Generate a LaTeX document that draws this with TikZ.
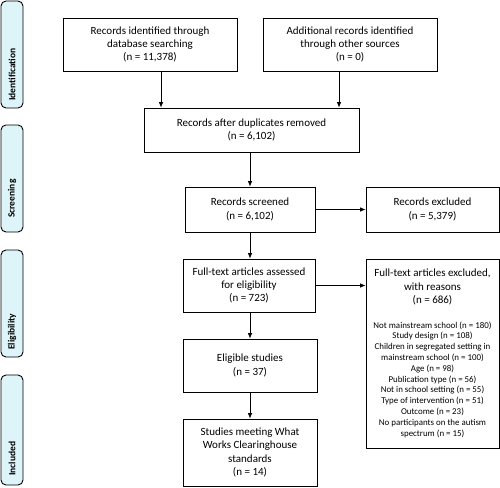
\documentclass[tikz,border=0pt]{standalone}
\usepackage{fontspec}
\setmainfont{Carlito}
\usetikzlibrary{arrows.meta}
\definecolor{sidefill}{HTML}{DDF4F9}
\tikzset{
  box/.style={draw=black, line width=0.8pt, inner sep=0pt, align=center,
    font=\fontsize{11}{13.4}\selectfont},
  side/.style={draw=black, line width=0.9pt, fill=sidefill, rounded corners=5pt,
    minimum height=22pt, inner sep=0pt, rotate=90},
  sidetext/.style={rotate=90, anchor=west, inner sep=0pt,
    font=\fontsize{9.5}{11}\selectfont\bfseries},
  arr/.style={line width=0.7pt, -{Latex[length=5.5pt,width=4.5pt]}},
  small/.style={align=center, inner sep=0pt, font=\fontsize{8.9}{10.8}\selectfont},
}
\begin{document}
\begin{tikzpicture}[x=1pt,y=-1pt]
\useasboundingbox (0,0) rectangle (500,487);
% side labels
\node[side, minimum width=107pt] (s1) at (12,54.5) {};
\node[side, minimum width=107pt] (s2) at (12,178.5) {};
\node[side, minimum width=107pt] (s3) at (12,303.5) {};
\node[side, minimum width=110pt] (s4) at (12,430) {};
\node[sidetext] (t1) at (12,101) {Identification};
\node[sidetext] (t2) at (12,218) {Screening};
\node[sidetext] (t3) at (12,350) {Eligibility};
\node[sidetext] (t4) at (12,476) {Included};
% boxes
\node[box, minimum width=174pt, minimum height=53pt] (b1) at (150,44.5)
  {Records identified through\\database searching\\(n = 11,378)};
\node[box, minimum width=174pt, minimum height=53pt] (b2) at (350,44.5)
  {Additional records identified\\through other sources\\(n = 0)};
\node[box, minimum width=215pt, minimum height=44pt] (b3) at (251.5,130)
  {Records after duplicates removed\\(n = 6,102)};
\node[box, minimum width=130pt, minimum height=45pt] (b4) at (250,209.5)
  {Records screened\\(n = 6,102)};
\node[box, minimum width=133pt, minimum height=45pt] (b5) at (432.5,209.5)
  {Records excluded\\(n = 5,379)};
\node[box, minimum width=132pt, minimum height=53pt] (b6) at (249,285.5)
  {Full-text articles assessed\\for eligibility\\(n = 723)};
\node[box, minimum width=133pt, minimum height=189pt] (b7) at (432.5,353.5) {};
\node[box, draw=none, anchor=center] (b7h) at (432.5,287)
  {Full-text articles excluded,\\with reasons\\(n = 686)};
\node[small] (b7l) at (432.5,379.5)
  {Not mainstream school (n = 180)\\Study design (n = 108)\\Children in segregated setting in\\mainstream school (n = 100)\\Age (n = 98)\\Publication type (n = 56)\\Not in school setting (n = 55)\\Type of intervention (n = 51)\\Outcome (n = 23)\\No participants on the autism\\spectrum (n = 15)};
\node[box, minimum width=134pt, minimum height=53pt] (b8) at (250,365.5)
  {Eligible studies\\(n = 37)};
\node[box, minimum width=134pt, minimum height=67pt] (b9) at (250,452.5)
  {Studies meeting What\\Works Clearinghouse\\standards\\(n = 14)};
% connectors
\draw[arr] ([xshift=11pt]b1.south) -- ([xshift=11pt]b1.south |- b3.north);
\draw[arr] ([xshift=-11pt]b2.south) -- ([xshift=-11pt]b2.south |- b3.north);
\draw[arr] (b3.south -| b4.north) -- (b4.north);
\draw[arr] (b4.east) -- (b5.west);
\draw[arr] (b4.south) -- (b4.south |- b6.north);
\draw[arr] (b6.east) -- (b6.east -| b7.west);
\draw[arr] (b4.south |- b6.south) -- (b4.south |- b8.north);
\draw[arr] (b8.south) -- (b9.north);
\end{tikzpicture}
\end{document}
